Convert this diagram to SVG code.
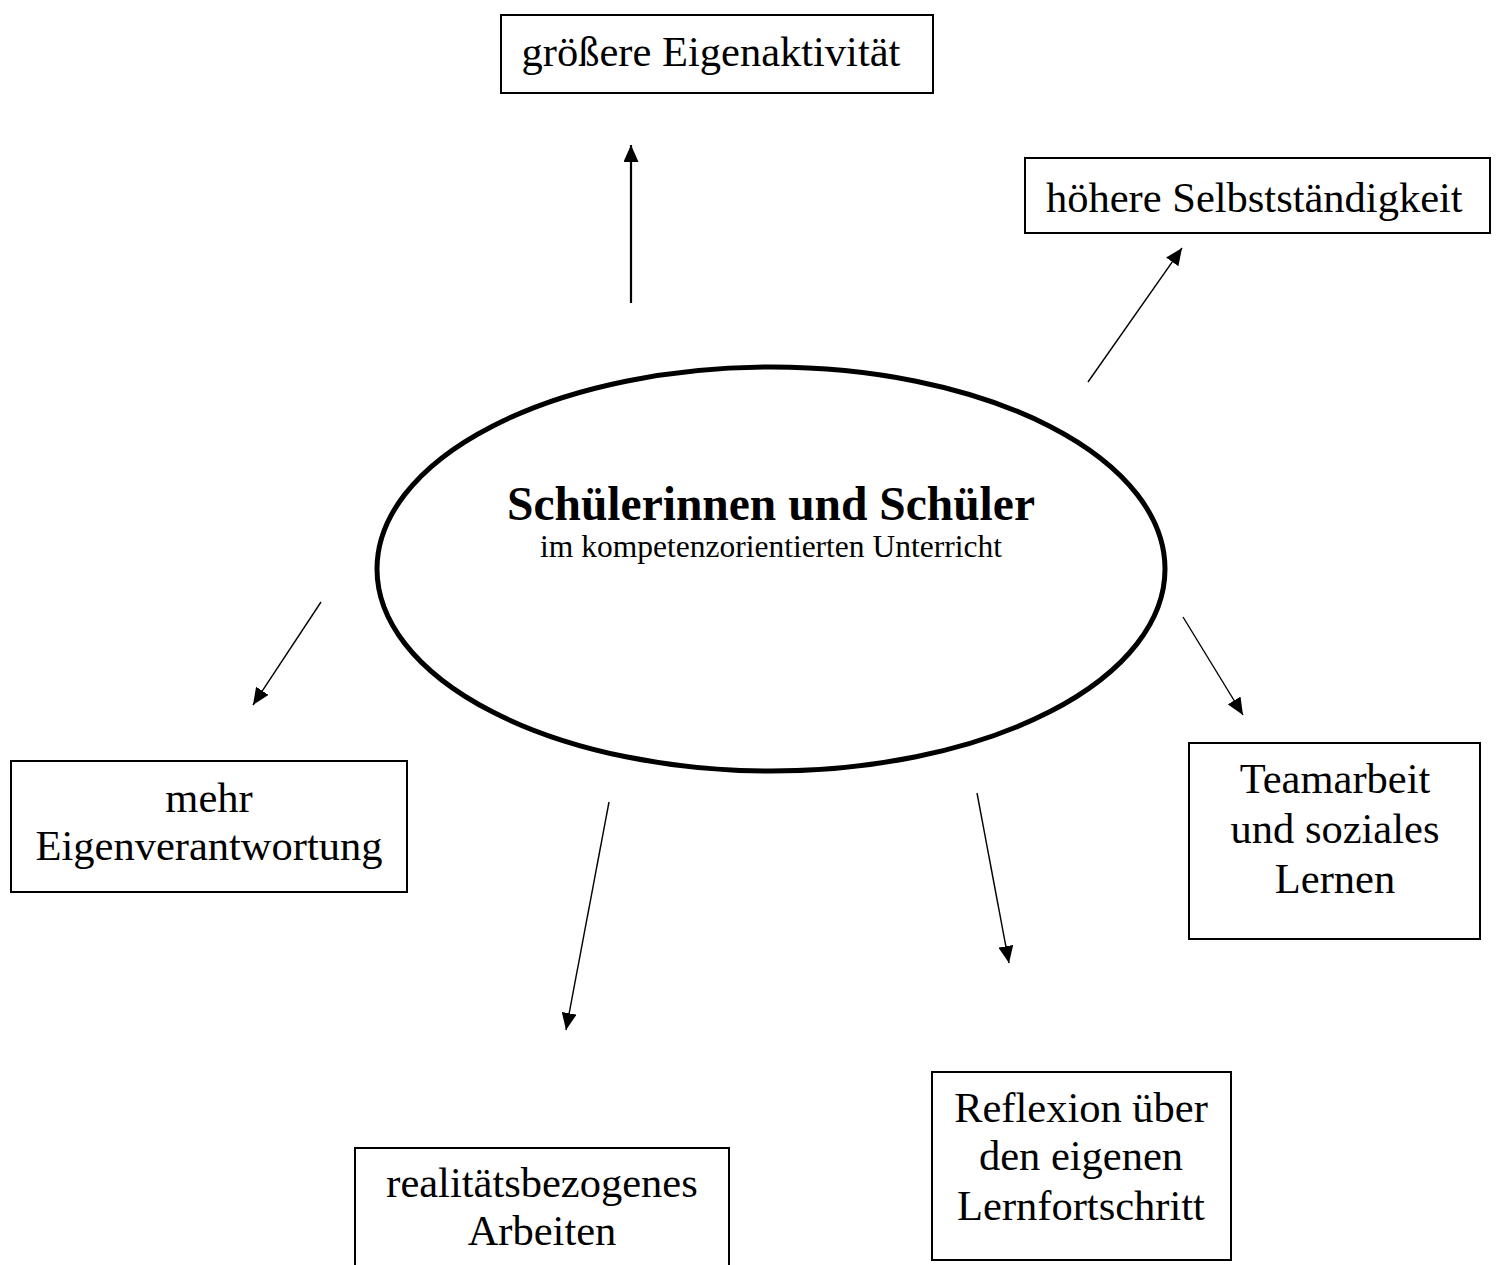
<svg xmlns="http://www.w3.org/2000/svg" width="1496" height="1265" viewBox="0 0 1496 1265">
<style>
.box{fill:#fff;stroke:#000;stroke-width:2}
.t{font-family:"Liberation Serif","Times New Roman",serif;font-size:42.5px;fill:#000;text-anchor:middle}
.conn{stroke:#000;stroke-width:1.4;fill:none;marker-end:url(#ah)}
</style>
<defs>
<marker id="ah" viewBox="0 0 17 15" refX="17" refY="7.5" markerWidth="17" markerHeight="15" markerUnits="userSpaceOnUse" orient="auto">
<path d="M0,0 L17,7.5 L0,15 z" fill="#000"/>
</marker>
</defs>
<rect width="1496" height="1265" fill="#fff"/>
<g id="center">
<ellipse cx="771" cy="569" rx="394" ry="202" fill="none" stroke="#000" stroke-width="5"/>
<text x="771" y="520" style="font-family:'Liberation Serif','Times New Roman',serif;font-size:47.5px;font-weight:bold;text-anchor:middle">Schülerinnen und Schüler</text>
<text x="771" y="557" style="font-family:'Liberation Serif','Times New Roman',serif;font-size:31.5px;text-anchor:middle">im kompetenzorientierten Unterricht</text>
</g>
<g id="n1">
<rect class="box" x="501" y="15" width="432" height="78"/>
<text class="t" x="711" y="66">größere Eigenaktivität</text>
</g>
<g id="n2">
<rect class="box" x="1025" y="158" width="465" height="75"/>
<text class="t" x="1046" y="212" style="text-anchor:start">höhere Selbstständigkeit</text>
</g>
<g id="n3">
<rect class="box" x="11" y="761" width="396" height="131"/>
<text class="t" x="209" y="812">mehr</text>
<text class="t" x="209" y="860">Eigenverantwortung</text>
</g>
<g id="n4">
<rect class="box" x="1189" y="743" width="291" height="196"/>
<text class="t" x="1335" y="793">Teamarbeit</text>
<text class="t" x="1335" y="843">und soziales</text>
<text class="t" x="1335" y="893">Lernen</text>
</g>
<g id="n5">
<rect class="box" x="355" y="1148" width="374" height="130"/>
<text class="t" x="542" y="1197">realitätsbezogenes</text>
<text class="t" x="542" y="1245">Arbeiten</text>
</g>
<g id="n6">
<rect class="box" x="932" y="1072" width="299" height="188"/>
<text class="t" x="1081" y="1122">Reflexion über</text>
<text class="t" x="1081" y="1170">den eigenen</text>
<text class="t" x="1081" y="1220">Lernfortschritt</text>
</g>
<g id="connectors">
<line class="conn" x1="631" y1="303" x2="631" y2="145" style="stroke-width:2.2"/>
<line class="conn" x1="1088" y1="382" x2="1182" y2="248"/>
<line class="conn" x1="321" y1="602" x2="253" y2="705"/>
<line class="conn" x1="1183" y1="617" x2="1243" y2="715"/>
<line class="conn" x1="609" y1="802" x2="566" y2="1030"/>
<line class="conn" x1="977" y1="793" x2="1009" y2="963"/>
</g>
</svg>
